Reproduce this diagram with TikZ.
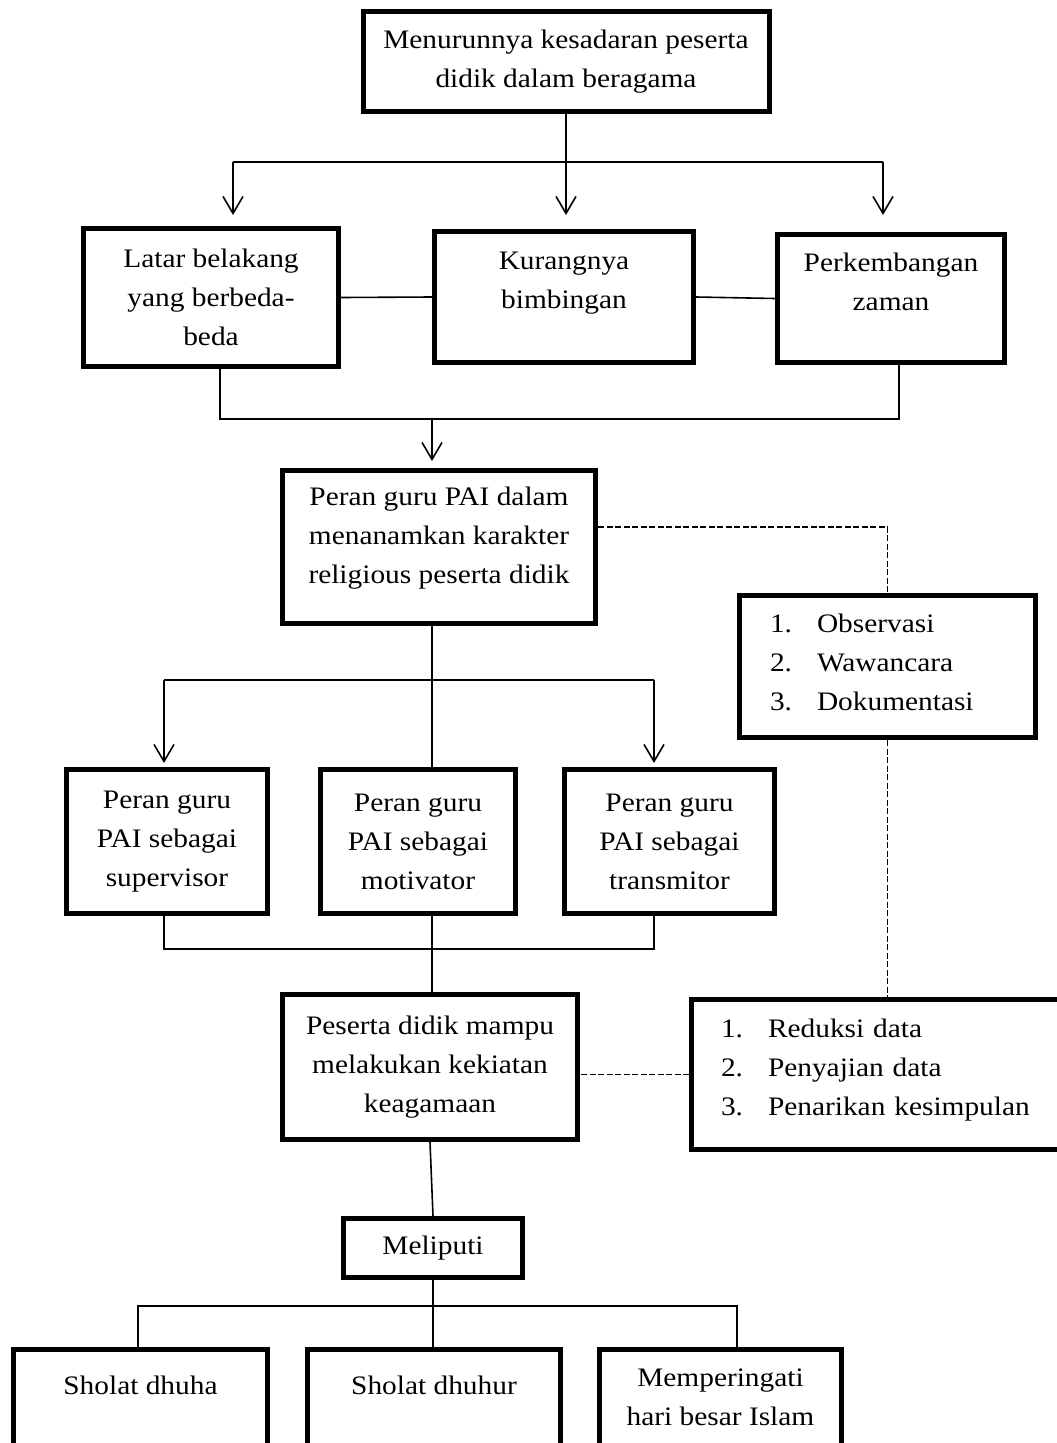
\documentclass[tikz,border=0pt]{standalone}
\usepackage{fontspec}
\setmainfont[FakeStretch=1.1]{Liberation Serif}
\usetikzlibrary{arrows.meta}
\newcommand{\numitem}[1]{\makebox[47pt][l]{#1}}

\begin{document}
\begin{tikzpicture}[x=1pt,y=-1pt,
  box/.style={draw,line width=5pt,align=center,inner sep=0pt,font=\fontsize{26.7}{39}\selectfont},
  arr/.style={-{Straight Barb[length=17pt,width=20pt]}},
  dashln/.style={dash pattern=on 6pt off 2.5pt}]
\useasboundingbox (0,0) rectangle (1057,1443);
% boxes
\node[box,minimum width=406pt,minimum height=100pt] (top) at (566,61.5) {Menurunnya kesadaran peserta\\didik dalam beragama};
\node[box,minimum width=255pt,minimum height=138pt] (latar) at (211,297.5) {Latar belakang\\yang berbeda-\\beda};
\node[box,minimum width=259pt,minimum height=131pt,text depth=33pt] (kurang) at (564,297) {Kurangnya\\bimbingan};
\node[box,minimum width=227pt,minimum height=128pt,text depth=33pt] (perk) at (891,298.5) {Perkembangan\\zaman};
\node[box,minimum width=313pt,minimum height=153pt,text depth=24pt] (dalam) at (439,547) {Peran guru PAI dalam\\menanamkan karakter\\religious peserta didik};
\node[box,align=left,inner xsep=30.5pt,text width=235pt,minimum height=142pt,text depth=87pt] (obs) at (887.5,666.5)
  {\numitem{1.}Observasi\\\numitem{2.}Wawancara\\\numitem{3.}Dokumentasi};
\node[box,minimum width=201pt,minimum height=144pt] (sup) at (167,841.5) {Peran guru\\PAI sebagai\\supervisor};
\node[box,minimum width=195pt,minimum height=144pt] (mot) at (418,841.5) {Peran guru\\PAI sebagai\\motivator};
\node[box,minimum width=210pt,minimum height=144pt] (tra) at (669.5,841.5) {Peran guru\\PAI sebagai\\transmitor};
\node[box,minimum width=295pt,minimum height=145pt] (pes) at (430,1067) {Peserta didik mampu\\melakukan kekiatan\\keagamaan};
\node[box,align=left,inner xsep=29.5pt,text width=356pt,minimum height=150pt,text depth=93pt] (red) at (899,1074.5)
  {\numitem{1.}Reduksi data\\\numitem{2.}Penyajian data\\\numitem{3.}Penarikan kesimpulan};
\node[box,minimum width=179pt,minimum height=59pt] (mel) at (433,1248) {Meliputi};
\node[box,minimum width=254pt,minimum height=155pt,text depth=84pt] (sh1) at (140.5,1427) {Sholat dhuha};
\node[box,minimum width=253pt,minimum height=155pt,text depth=84pt] (sh2) at (434,1427) {Sholat dhuhur};
\node[box,minimum width=242pt,minimum height=155pt,text depth=59pt] (sh3) at (720.5,1427) {Memperingati\\hari besar Islam};
% connectors
\begin{scope}[line width=1.6pt]
\coordinate (fl) at (233,162);
\coordinate (fr) at (883,162);
\draw[arr,shorten >=14pt] (top.south) -- (top.south |- kurang.north);
\draw (fl) -- (fr);
\draw[arr,shorten >=11pt] (fl) -- (fl |- latar.north);
\draw[arr,shorten >=17pt] (fr) -- (fr |- perk.north);
\draw (latar.east) -- (kurang.west);
\draw (kurang.east) -- (perk.west);
\coordinate (jl) at (220,419);
\coordinate (jr) at (899,419);
\coordinate (jm) at (432,419);
\draw (jl |- latar.south) -- (jl) -- (jr) -- (jr |- perk.south);
\draw[arr,shorten >=7pt] (jm) -- (jm |- dalam.north);
\draw[dashln] ([yshift=20pt]dalam.east) -| (obs.north);
\draw[dashln] (obs.south) -- (obs.south |- red.north);
\draw[dashln] (red.west) -- (red.west -| pes.east);
\coordinate (kl) at (164,680);
\coordinate (kr) at (654,680);
\coordinate (km) at (432,680);
\draw (km |- dalam.south) -- (km |- mot.north);
\draw (kl) -- (kr);
\draw[arr,shorten >=4pt] (kl) -- (kl |- sup.north);
\draw[arr,shorten >=4pt] (kr) -- (kr |- tra.north);
\coordinate (ml) at (164,949);
\coordinate (mr) at (654,949);
\draw (ml |- sup.south) -- (ml) -- (mr) -- (mr |- tra.south);
\draw (km |- mot.south) -- (km |- pes.north);
\draw (pes.south) -- (mel.north);
\coordinate (nl) at (138,1306);
\coordinate (nr) at (737,1306);
\draw (mel.south) -- (mel.south |- sh2.north);
\draw (nl |- sh1.north) -- (nl) -- (nr) -- (nr |- sh3.north);
\end{scope}
\end{tikzpicture}
\end{document}
